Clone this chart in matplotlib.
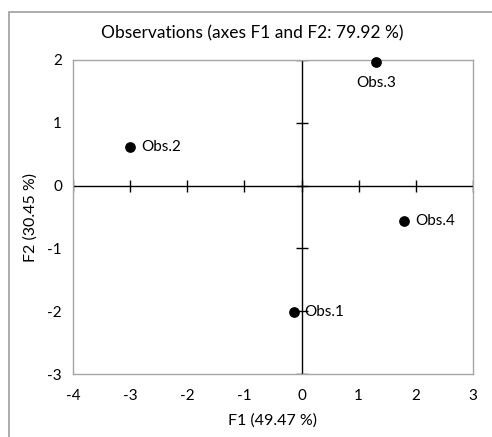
import matplotlib.pyplot as plt
from matplotlib.patches import Rectangle

# Observation coordinates on the first two factors
obs_names = ["Obs.1", "Obs.2", "Obs.3", "Obs.4"]
f1_values = [-0.14, -3.00, 1.30, 1.79]
f2_values = [-2.01, 0.62, 1.97, -0.56]

x_ticks = [-4, -3, -2, -1, 0, 1, 2, 3]
y_ticks = [-3, -2, -1, 0, 1, 2]

title = "Observations (axes F1 and F2: 79.92 %)"
x_label = "F1 (49.47 %)"
y_label = "F2 (30.45 %)"

plt.rcParams['font.family'] = ['Lato', 'DejaVu Sans']

fig = plt.figure(figsize=(4.92, 4.37), dpi=100)
ax = fig.add_axes([73 / 492, 1 - 374 / 437, 400 / 492, 314 / 437])

# outer chart frame (runs off the right and bottom edges)
fig.patches.append(Rectangle((9 / 492, -0.1), 1.0, 1.1 - 12 / 437,
                             transform=fig.transFigure, fill=False,
                             edgecolor="#a6a6a6", linewidth=1.3))

ax.set_xlim(x_ticks[0], x_ticks[-1])
ax.set_ylim(y_ticks[0], y_ticks[-1])
for s in ax.spines.values():
    s.set_color("#a6a6a6")
    s.set_linewidth(1.0)

ax.set_xticks(x_ticks)
ax.set_yticks(y_ticks)
ax.tick_params(axis="x", length=0, labelsize=11, pad=11)
ax.tick_params(axis="y", length=0, labelsize=11, pad=8)
ax.set_xticklabels([str(t) for t in x_ticks])
ax.set_yticklabels([str(t) for t in y_ticks])

# axes through origin with crossing ticks
ax.axhline(0, color="black", linewidth=1.0, zorder=2)
ax.axvline(0, color="black", linewidth=1.0, zorder=2)
ax.plot(x_ticks, [0] * len(x_ticks), linestyle="none", marker="|",
        markersize=8, color="black", markeredgewidth=1.0, zorder=2)
ax.plot([0] * len(y_ticks), y_ticks, linestyle="none", marker="_",
        markersize=8, color="black", markeredgewidth=1.0, zorder=2)

ax.scatter(f1_values, f2_values, s=45, color="black", zorder=3, clip_on=False)

for name, x, y in zip(obs_names, f1_values, f2_values):
    if name == "Obs.3":
        ax.annotate(name, (x, y), xytext=(0, -15), textcoords="offset points",
                    ha="center", va="center", fontsize=11)
    else:
        ax.annotate(name, (x, y), xytext=(8, 0), textcoords="offset points",
                    ha="left", va="center", fontsize=11)

fig.text(252 / 492, 1 - 33 / 437, title, ha="center",
         va="center", fontsize=12.5)
ax.set_xlabel(x_label, fontsize=11.5, labelpad=7)
ax.set_ylabel(y_label, fontsize=11.5, labelpad=7)

fig.savefig("out.png", dpi=100)
